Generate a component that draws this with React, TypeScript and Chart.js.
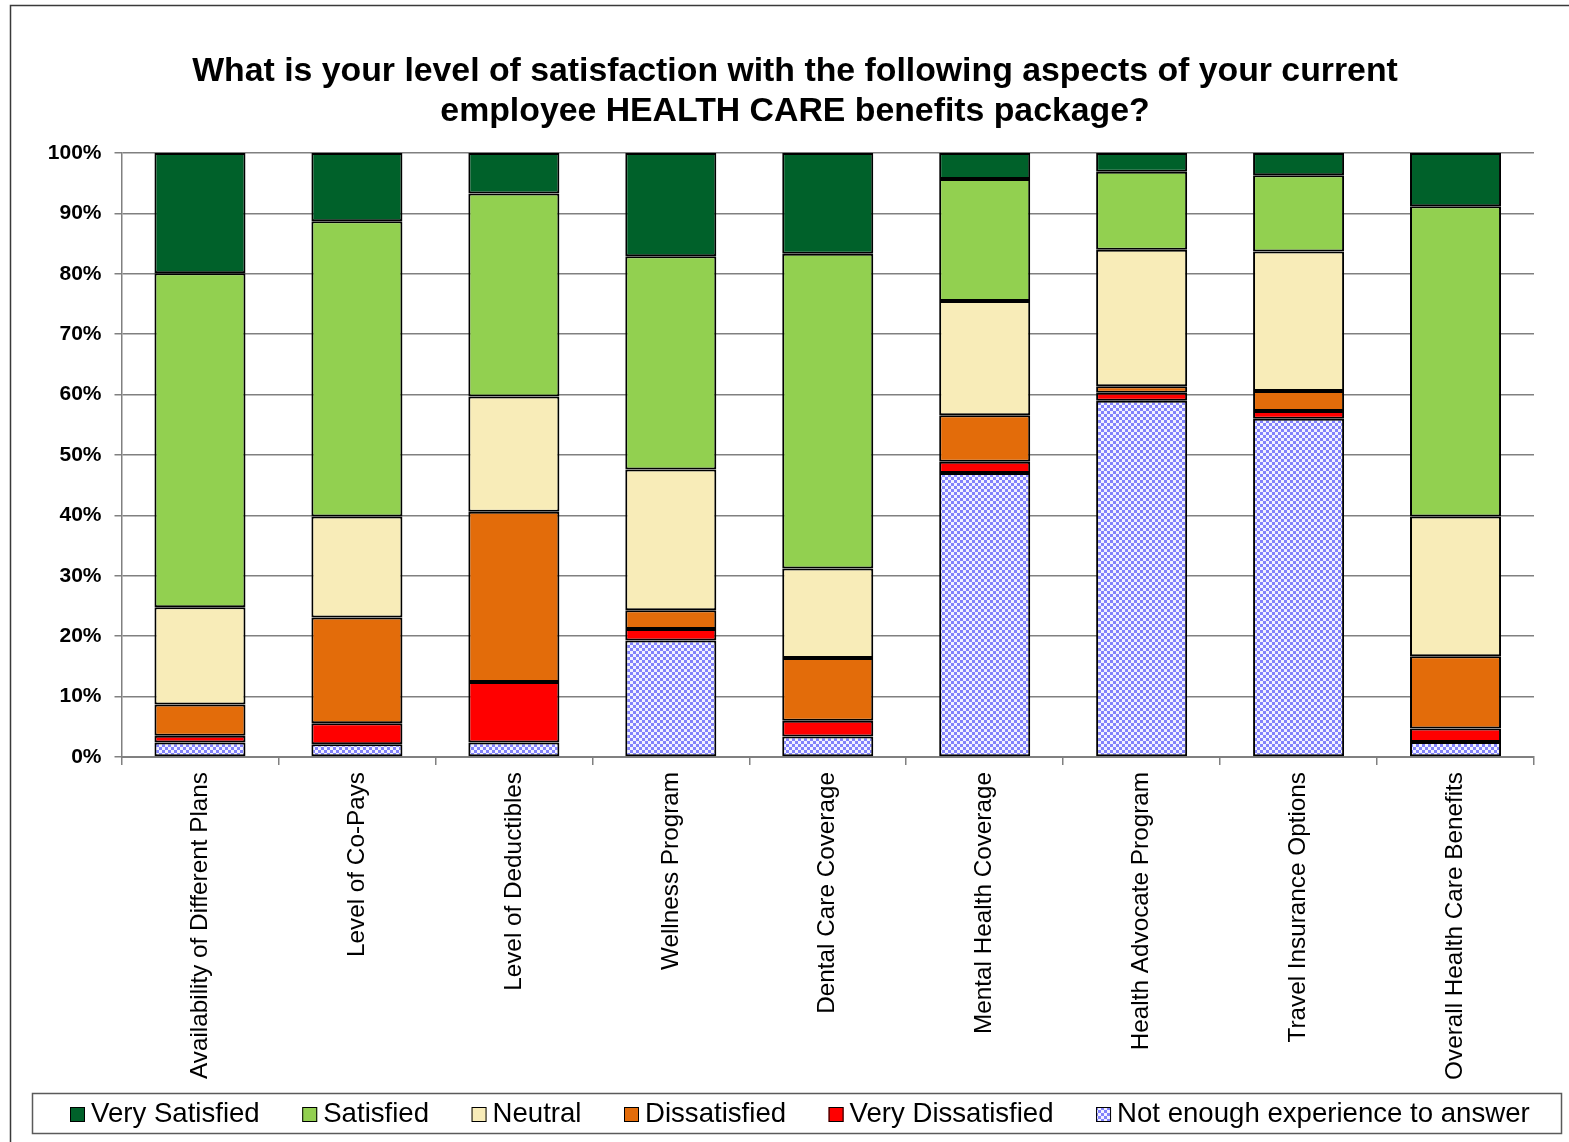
import React, { useEffect, useRef } from "react";
import { Chart, registerables } from "chart.js";

Chart.register(...registerables);

const titleLines = [
  "What is your level of satisfaction with the following aspects of your current",
  "employee HEALTH CARE benefits package?",
];

const categories = [
  "Availability of Different Plans",
  "Level of Co-Pays",
  "Level of Deductibles",
  "Wellness Program",
  "Dental Care Coverage",
  "Mental Health Coverage",
  "Health Advocate Program",
  "Travel Insurance Options",
  "Overall Health Care Benefits",
];

const notEnoughExperience = [2.4, 2.1, 2.4, 19.3, 3.4, 47.0, 59.0, 56.0, 2.5];
const veryDissatisfied = [1.1, 3.5, 10.0, 1.9, 2.6, 1.9, 1.3, 1.3, 2.2];
const dissatisfied = [5.2, 17.5, 28.2, 3.1, 10.4, 7.7, 1.1, 3.3, 12.0];
const neutral = [16.1, 16.7, 19.1, 23.3, 14.8, 18.9, 22.6, 23.1, 23.1];
const satisfied = [55.3, 48.9, 33.6, 35.3, 52.1, 20.2, 12.9, 12.6, 51.4];
const verySatisfied = [19.9, 11.3, 6.7, 17.1, 16.7, 4.3, 3.1, 3.7, 8.8];

const seriesNames = [
  "Not enough experience to answer",
  "Very Dissatisfied",
  "Dissatisfied",
  "Neutral",
  "Satisfied",
  "Very Satisfied",
];

const FONT = "'Liberation Sans', Arial, sans-serif";

function makeChecker(): CanvasPattern | string {
  const c = document.createElement("canvas");
  c.width = 6;
  c.height = 6;
  const g = c.getContext("2d");
  if (!g) return "#8f8fff";
  g.fillStyle = "#f2f2ff";
  g.fillRect(0, 0, 6, 6);
  g.fillStyle = "#8282fb";
  g.fillRect(0, 0, 3, 3);
  g.fillRect(3, 3, 3, 3);
  const p = g.createPattern(c, "repeat");
  return p || "#8f8fff";
}

export default function App() {
  const ref = useRef<HTMLCanvasElement | null>(null);

  useEffect(() => {
    const canvas = ref.current;
    if (!canvas) return;
    const checker = makeChecker();
    const colors: (string | CanvasPattern)[] = [
      checker,
      "#ff0000",
      "#e36c0a",
      "#f8ecb8",
      "#92d050",
      "#00612a",
    ];
    const values = [
      notEnoughExperience,
      veryDissatisfied,
      dissatisfied,
      neutral,
      satisfied,
      verySatisfied,
    ];

    const framePlugin = {
      id: "framePlugin",
      beforeDraw(chart: any) {
        const ctx = chart.ctx;
        ctx.save();
        ctx.fillStyle = "#ffffff";
        ctx.fillRect(0, 0, chart.width, chart.height);
        ctx.restore();
      },
      afterDraw(chart: any) {
        const ctx = chart.ctx;
        ctx.save();
        // outer frame
        ctx.strokeStyle = "#3a3a3a";
        ctx.lineWidth = 1.5;
        ctx.beginPath();
        ctx.moveTo(10.5, chart.height);
        ctx.lineTo(10.5, 5.5);
        ctx.lineTo(chart.width, 5.5);
        ctx.stroke();
        // legend box
        ctx.strokeStyle = "#5a5a5a";
        ctx.lineWidth = 1.5;
        ctx.strokeRect(32.5, 1093.5, 1529, 40);
        // legend items (reverse order)
        ctx.font = `27.6px ${FONT}`;
        ctx.textBaseline = "alphabetic";
        ctx.textAlign = "left";
        const box = 15;
        const gapText = 6;
        const gapItem = 42.5;
        const order = [5, 4, 3, 2, 1, 0];
        let total = 0;
        order.forEach((i, k) => {
          total += box + gapText + ctx.measureText(seriesNames[i]).width;
          if (k < order.length - 1) total += gapItem;
        });
        let x = Math.round(800 - total / 2);
        order.forEach((i) => {
          ctx.fillStyle = colors[i] as any;
          ctx.fillRect(x, 1107, box, box);
          ctx.strokeStyle = "#000000";
          ctx.lineWidth = 1;
          ctx.strokeRect(x + 0.5, 1107.5, box - 1, box - 1);
          ctx.fillStyle = "#000000";
          ctx.fillText(seriesNames[i], x + box + gapText, 1122);
          x += box + gapText + ctx.measureText(seriesNames[i]).width + gapItem;
        });
        ctx.restore();
      },
    };

    const chart = new Chart(canvas, {
      type: "bar",
      data: {
        labels: categories,
        datasets: seriesNames.map((name, i) => ({
          label: name,
          data: values[i],
          backgroundColor: colors[i] as any,
          borderColor: "#000000",
          borderWidth: 2,
          borderSkipped: false,
          categoryPercentage: 1,
          barPercentage: 0.58,
          yAxisID: "y",
        })),
      },
      options: {
        responsive: false,
        animation: false,
        devicePixelRatio: 1,
        layout: { padding: { top: 0, left: 21, right: 0, bottom: 0 } },
        plugins: {
          legend: { display: false },
          tooltip: { enabled: false },
          title: {
            display: true,
            text: titleLines,
            color: "#000000",
            font: { family: FONT, size: 33.8, weight: "bold", lineHeight: "40px" },
            padding: { top: 52, bottom: 21 },
          },
        },
        scales: {
          x: {
            stacked: true,
            offset: true,
            afterFit: (scale: any) => {
              scale.height = 385;
            },
            grid: {
              offset: true,
              drawOnChartArea: false,
              drawTicks: true,
              tickLength: 8,
              color: "#808080",
              lineWidth: 1.5,
            },
            border: { display: true, color: "#808080", width: 2 },
            ticks: {
              autoSkip: false,
              maxRotation: 90,
              minRotation: 90,
              padding: 7,
              color: "#000000",
              font: { family: FONT, size: 24.3 },
            },
          },
          y: {
            stacked: true,
            position: "left",
            min: 0,
            max: 100,
            afterFit: (scale: any) => {
              scale.width = 100.5;
            },
            grid: {
              color: "#808080",
              lineWidth: 1.5,
              tickLength: 7,
            },
            border: { display: true, color: "#808080", width: 1.5 },
            ticks: {
              stepSize: 10,
              padding: 13,
              color: "#000000",
              font: { family: FONT, size: 21, weight: "bold" },
              callback: (v: any) => `${v}%`,
            },
          },
          yRight: {
            position: "right",
            display: true,
            min: 0,
            max: 100,
            afterFit: (scale: any) => {
              scale.width = 35;
            },
            grid: { display: false, drawOnChartArea: false, drawTicks: false },
            border: { display: false },
            ticks: { display: false },
          },
        },
      },
      plugins: [framePlugin],
    });

    return () => chart.destroy();
  }, []);

  return (
    <div style={{ position: "absolute", left: 0, top: 0, width: 1569, height: 1142 }}>
      <canvas ref={ref} width={1569} height={1142} style={{ display: "block" }} />
    </div>
  );
}
